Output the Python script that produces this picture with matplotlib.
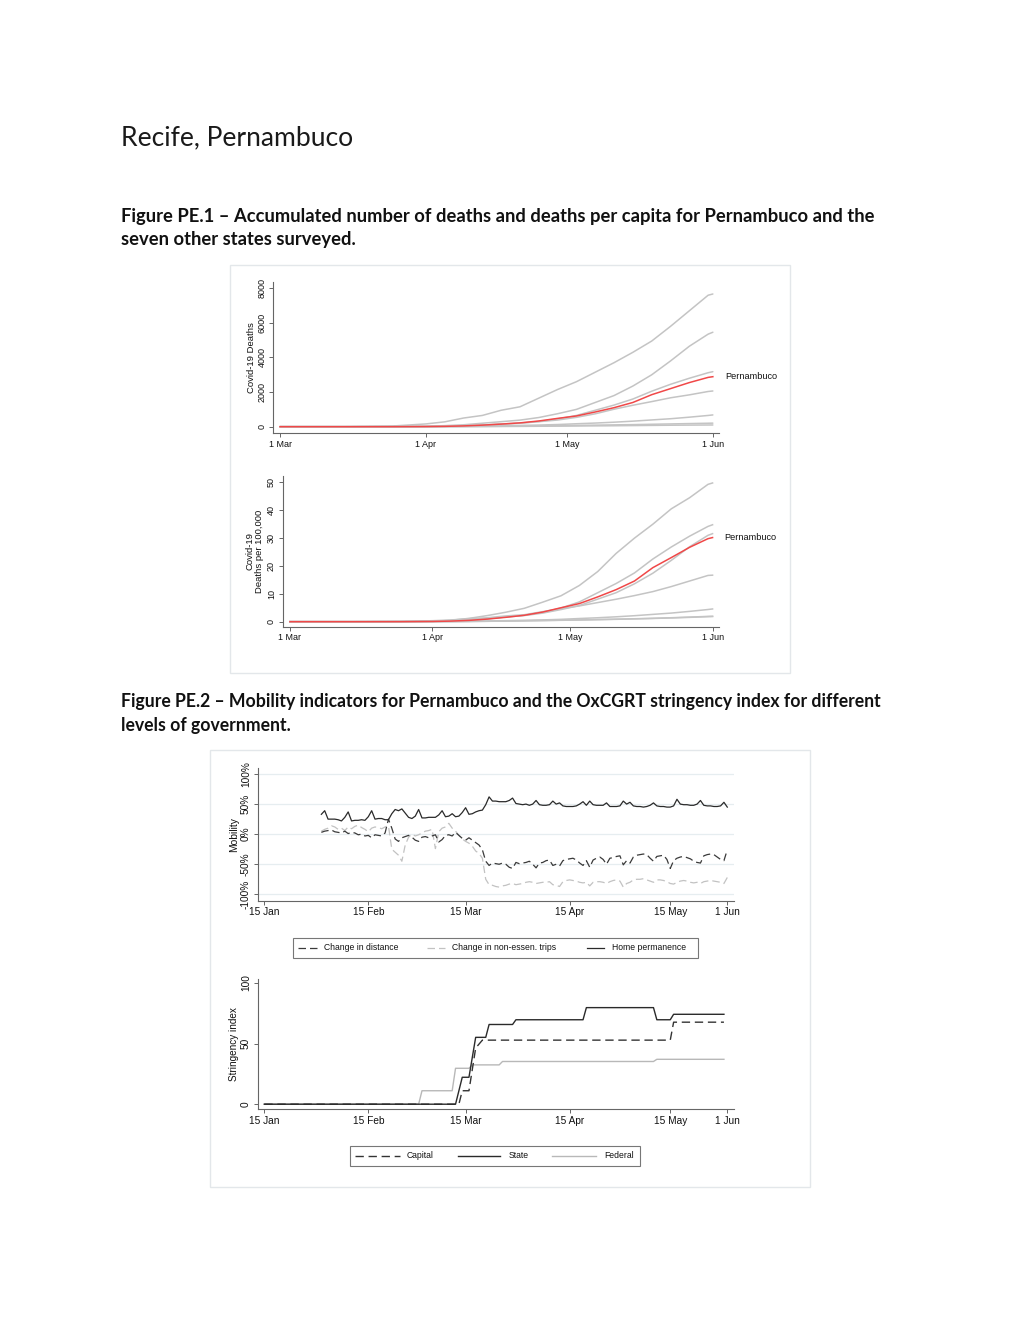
import matplotlib
matplotlib.use('Agg')
import matplotlib.pyplot as plt
import pandas as pd
from matplotlib.lines import Line2D
from matplotlib.patches import Rectangle

# ---------------- DATA ----------------
death_dates = ['2020-03-01', '2020-03-15', '2020-03-25', '2020-04-01', '2020-04-05',
               '2020-04-09', '2020-04-13', '2020-04-17', '2020-04-21', '2020-04-25',
               '2020-04-29', '2020-05-03', '2020-05-07', '2020-05-11', '2020-05-15',
               '2020-05-19', '2020-05-23', '2020-05-27', '2020-05-31', '2020-06-01']

# accumulated deaths (other states, grey)
deaths_sp = [0, 0, 40, 160, 280, 500, 650, 950, 1150, 1650, 2150, 2600, 3150, 3700, 4300, 4950, 5800, 6700, 7600, 7670]
deaths_rj = [0, 0, 5, 23, 60, 110, 200, 290, 380, 530, 750, 1000, 1400, 1800, 2350, 3000, 3800, 4650, 5350, 5460]
deaths_ce = [0, 0, 2, 16, 30, 50, 90, 160, 210, 300, 450, 650, 950, 1250, 1600, 2050, 2450, 2800, 3120, 3180]
deaths_am = [0, 0, 2, 3, 20, 50, 90, 140, 200, 290, 385, 540, 745, 1010, 1240, 1450, 1670, 1840, 2035, 2064]
deaths_ba = [0, 0, 1, 5, 10, 20, 35, 55, 75, 95, 125, 170, 210, 260, 320, 390, 460, 550, 650, 680]
deaths_mg = [0, 0, 1, 2, 5, 10, 16, 25, 35, 45, 60, 75, 90, 105, 120, 140, 160, 180, 200, 205]
deaths_rs = [0, 0, 0, 1, 3, 5, 8, 12, 18, 25, 32, 40, 48, 55, 65, 75, 85, 92, 98, 100]
deaths_pe = [0, 0, 1, 8, 20, 45, 90, 150, 220, 330, 480, 620, 850, 1100, 1400, 1850, 2200, 2550, 2850, 2890]

# deaths per 100,000
pc_am = [0, 0, 0.05, 0.1, 0.5, 1.2, 2.2, 3.4, 4.8, 7.0, 9.3, 13, 18, 24.5, 30, 35, 40.5, 44.5, 49.3, 49.8]
pc_ce = [0, 0, 0.02, 0.18, 0.33, 0.55, 1.0, 1.75, 2.3, 3.3, 4.9, 7.1, 10.4, 13.7, 17.5, 22.5, 26.8, 30.7, 34.2, 34.8]
pc_rj = [0, 0, 0.03, 0.13, 0.35, 0.64, 1.16, 1.68, 2.2, 3.07, 4.35, 5.8, 8.1, 10.4, 13.6, 17.4, 22, 26.9, 31, 31.6]
pc_sp = [0, 0, 0.09, 0.35, 0.61, 1.09, 1.42, 2.07, 2.5, 3.6, 4.68, 5.66, 6.86, 8.06, 9.37, 10.8, 12.6, 14.6, 16.6, 16.7]
pc_ba = [0, 0, 0.01, 0.03, 0.07, 0.13, 0.24, 0.37, 0.5, 0.64, 0.84, 1.14, 1.41, 1.75, 2.15, 2.62, 3.09, 3.7, 4.37, 4.57]
pc_mg = [0, 0, 0.01, 0.02, 0.04, 0.08, 0.14, 0.22, 0.3, 0.4, 0.5, 0.6, 0.72, 0.85, 1.0, 1.15, 1.35, 1.55, 1.8, 1.85]
pc_rs = [0, 0, 0.01, 0.02, 0.05, 0.09, 0.15, 0.23, 0.32, 0.42, 0.53, 0.64, 0.77, 0.9, 1.05, 1.22, 1.42, 1.65, 1.9, 1.95]
pc_pe = [0, 0, 0.01, 0.08, 0.21, 0.47, 0.94, 1.57, 2.3, 3.45, 5.0, 6.5, 8.9, 11.5, 14.6, 19.4, 23, 26.7, 29.8, 30.2]

# mobility, daily from 2020-02-01 (weekly rows Sat..Fri)
mob_start = '2020-02-01'
home_perm = [33, 39, 25, 25, 25, 24, 22,
             28, 37, 22, 23, 23, 24, 23,
             29, 39, 25, 26, 26, 24, 24,
             34, 41, 39, 42, 35, 28, 26,
             30, 41, 27, 27, 28, 28, 28,
             32, 39, 29, 30, 34, 29, 30,
             36, 44, 33, 34, 37, 39, 40,
             49, 62, 55, 55, 54, 54, 54,
             56, 60, 51, 50, 49, 50, 48,
             50, 56, 49, 48, 48, 49, 55,
             50, 52, 47, 46, 46, 46, 47,
             50, 54, 48, 55, 49, 48, 48,
             48, 52, 46, 46, 46, 47, 55,
             50, 53, 47, 46, 46, 45, 46,
             48, 52, 47, 46, 46, 45, 45,
             47, 58, 50, 49, 49, 48, 48,
             50, 56, 48, 47, 47, 46, 46,
             47, 53, 45]
chg_distance = [3, 5, 6, 7, 4, 3, 2,
                5, 1, 3, 2, -1, 0, -3,
                -2, -6, -1, -2, -3, 2, 25,
                10, -8, -12, -6, -4, -2, -5,
                -10, -12, -5, -4, -6, -3, -1,
                -13, -9, -2, -1, -3, 3, -2,
                -7, -10, -6, -10, -14, -18, -26,
                -45, -52, -48, -49, -50, -48, -50,
                -55, -57, -47, -49, -48, -47, -45,
                -50, -56, -48, -47, -44, -43, -52,
                -50, -53, -44, -42, -41, -40, -43,
                -48, -52, -44, -55, -43, -40, -38,
                -42, -50, -40, -39, -37, -36, -51,
                -44, -48, -38, -35, -34, -33, -34,
                -40, -45, -37, -36, -35, -42, -57,
                -44, -40, -38, -37, -39, -41, -45,
                -47, -48, -36, -34, -33, -34, -38,
                -42, -44, -26]
chg_nonessential = [5, 8, 10, 14, 12, 8, 10,
                    6, 12, 9, 13, 15, 11, 8,
                    4, 10, 12, 11, 9, 12, 14,
                    -25, -30, -35, -45, -18, -5, 0,
                    -3, -1, 2, 5, 6, 8, -24,
                    4, 10, 12, 18, 10, 5, -2,
                    -8, -12, -15, -20, -28, -32, -40,
                    -75, -84, -85, -87, -88, -86, -85,
                    -83, -82, -84, -83, -82, -80, -79,
                    -80, -82, -81, -80, -80, -79, -84,
                    -85, -87, -79, -77, -76, -77, -78,
                    -80, -81, -80, -86, -80, -79, -79,
                    -80, -82, -79, -77, -76, -78, -88,
                    -82, -80, -76, -75, -75, -74, -76,
                    -78, -80, -76, -76, -77, -79, -82,
                    -83, -80, -78, -77, -78, -80, -81,
                    -80, -82, -79, -78, -77, -78, -79,
                    -80, -82, -72]

# OxCGRT stringency index (change points)
state_dates = ['2020-01-15', '2020-03-12', '2020-03-14', '2020-03-16', '2020-03-18', '2020-03-21',
               '2020-03-22', '2020-03-29', '2020-03-30', '2020-04-19', '2020-04-20', '2020-05-10',
               '2020-05-11', '2020-05-15', '2020-05-16', '2020-05-31']
state_vals = [0, 0, 22.2, 22.2, 55.1, 55.1, 65.7, 65.7, 69.6, 69.6, 79.6, 79.6, 69.6, 69.6, 74.1, 74.1]
capital_dates = ['2020-01-15', '2020-03-13', '2020-03-14', '2020-03-16', '2020-03-18', '2020-03-20',
                 '2020-05-15', '2020-05-16', '2020-05-31']
capital_vals = [0, 0, 11.1, 11.1, 46.3, 52.8, 52.8, 67.6, 67.6]
federal_dates = ['2020-01-15', '2020-03-01', '2020-03-02', '2020-03-11', '2020-03-12', '2020-03-16',
                 '2020-03-17', '2020-03-25', '2020-03-26', '2020-05-10', '2020-05-11', '2020-05-31']
federal_vals = [0, 0, 11.1, 11.1, 29.6, 29.6, 32.4, 32.4, 35.2, 35.2, 37.0, 37.0]

death_ticks = ['2020-03-01', '2020-04-01', '2020-05-01', '2020-06-01']
death_tick_labels = ['1 Mar', '1 Apr', '1 May', '1 Jun']
mob_ticks = ['2020-01-15', '2020-02-15', '2020-03-15', '2020-04-15', '2020-05-15', '2020-06-01']
mob_tick_labels = ['15 Jan', '15 Feb', '15 Mar', '15 Apr', '15 May', '1 Jun']

# ---------------- FIGURE ----------------
W, H = 1020, 1320
fig = plt.figure(figsize=(10.2, 13.2), dpi=100)
fig.patch.set_facecolor('white')
AXFONT = ['Liberation Sans', 'DejaVu Sans']
HEADFONT = ['Lato', 'DejaVu Sans']


def fx(px):
    return px / W


def fy(py):
    return 1 - py / H


def axes_px(l, t, r, b):
    return fig.add_axes([fx(l), fy(b), (r - l) / W, (b - t) / H])


def frame_px(l, t, r, b):
    fig.add_artist(Rectangle((fx(l), fy(b)), (r - l) / W, (b - t) / H, transform=fig.transFigure,
                             fill=False, edgecolor='#e3e7ea', lw=1.0))


renderer = fig.canvas.get_renderer()


def fit_width(t, target):
    w = t.get_window_extent(renderer).width
    t.set_fontsize(t.get_fontsize() * target / w)


# headings
t0 = fig.text(fx(121), fy(145), 'Recife, Pernambuco', fontsize=17, family=HEADFONT,
              weight='normal', va='baseline', color='#1a1a1a')
fit_width(t0, 232)

c1a = fig.text(fx(121), fy(222), 'Figure PE.1 \u2013 Accumulated number of deaths and deaths per capita for Pernambuco and the',
               fontsize=12, family=HEADFONT, weight='bold', va='baseline', color='#111')
fit_width(c1a, 747)
fig.text(fx(121), fy(245), 'seven other states surveyed.', fontsize=c1a.get_fontsize(), family=HEADFONT,
         weight='bold', va='baseline', color='#111')

c2a = fig.text(fx(121), fy(707), 'Figure PE.2 \u2013 Mobility indicators for Pernambuco and the OxCGRT stringency index for different',
               fontsize=12, family=HEADFONT, weight='bold', va='baseline', color='#111')
fit_width(c2a, 757)
fig.text(fx(121), fy(731), 'levels of government.', fontsize=c2a.get_fontsize(), family=HEADFONT,
         weight='bold', va='baseline', color='#111')

frame_px(230, 265, 790, 673)
frame_px(210, 750, 810, 1187)

SPINE = '#666666'


def style_axes(ax, tick_fs):
    for s in ['top', 'right']:
        ax.spines[s].set_visible(False)
    for s in ['left', 'bottom']:
        ax.spines[s].set_color(SPINE)
        ax.spines[s].set_linewidth(0.8)
    ax.tick_params(axis='both', direction='out', length=2.8, width=0.7, color=SPINE,
                   labelsize=tick_fs, pad=2.0, labelcolor='#111')
    ax.tick_params(axis='y', labelrotation=90)
    ax.minorticks_off()
    ax.set_facecolor('white')


def set_xticks(ax, ticks, labels, fs):
    ax.set_xticks(pd.to_datetime(ticks))
    ax.set_xticklabels(labels, family=AXFONT, fontsize=fs)


def fix_yticklabels(ax, labels, fs):
    ax.set_yticklabels(labels, family=AXFONT, fontsize=fs, rotation=90, va='center')


def ylabel_at(ax, text, fs, x_px, left_px, right_px, **kw):
    ax.set_ylabel(text, family=AXFONT, fontsize=fs, color='#111', va='center', ha='center', **kw)
    ax.yaxis.set_label_coords((x_px - left_px) / (right_px - left_px), 0.5)


GREY = '#c4c4c4'
RED = '#f04848'
dd = pd.to_datetime(death_dates)

# ---- Deaths ----
ax1 = axes_px(273.3, 281.7, 718.5, 433.3)
for series in [deaths_sp, deaths_rj, deaths_ce, deaths_am, deaths_ba, deaths_mg, deaths_rs]:
    ax1.plot(dd, series, color=GREY, lw=1.1, solid_capstyle='round')
ax1.plot(dd, deaths_pe, color=RED, lw=1.1)
ax1.set_xlim(pd.Timestamp('2020-03-01') - pd.Timedelta(days=1.43), pd.Timestamp('2020-06-01') + pd.Timedelta(days=1.2))
ax1.set_ylim(-382, 8381)
style_axes(ax1, 6.5)
set_xticks(ax1, death_ticks, death_tick_labels, 6.5)
ax1.set_yticks([0, 2000, 4000, 6000, 8000])
fix_yticklabels(ax1, ['0', '2000', '4000', '6000', '8000'], 6.5)
ylabel_at(ax1, 'Covid-19 Deaths', 6.8, 251.7, 273.3, 718.5)
ax1.annotate('Pernambuco', xy=(dd[-1], deaths_pe[-1]), xytext=(8.9, 0), textcoords='offset points',
             va='center', ha='left', family=AXFONT, fontsize=6.6, color='#111', annotation_clip=False)

# ---- Deaths per capita ----
ax2 = axes_px(282.7, 476, 719, 626.7)
for series in [pc_am, pc_ce, pc_rj, pc_sp, pc_ba, pc_mg, pc_rs]:
    ax2.plot(dd, series, color=GREY, lw=1.1)
ax2.plot(dd, pc_pe, color=RED, lw=1.1)
ax2.set_xlim(pd.Timestamp('2020-03-01') - pd.Timedelta(days=1.58), pd.Timestamp('2020-06-01') + pd.Timedelta(days=1.4))
ax2.set_ylim(-1.8, 52.3)
style_axes(ax2, 6.5)
set_xticks(ax2, death_ticks, death_tick_labels, 6.5)
ax2.set_yticks([0, 10, 20, 30, 40, 50])
fix_yticklabels(ax2, ['0', '10', '20', '30', '40', '50'], 6.5)
ylabel_at(ax2, 'Covid-19\nDeaths per 100,000', 6.8, 255, 282.7, 719, linespacing=1.1)
ax2.annotate('Pernambuco', xy=(dd[-1], pc_pe[-1]), xytext=(8.4, 0), textcoords='offset points',
             va='center', ha='left', family=AXFONT, fontsize=6.6, color='#111', annotation_clip=False)

# ---- Mobility ----
md = pd.date_range(mob_start, periods=len(home_perm), freq='D')
mxlim = (pd.Timestamp('2020-01-15') - pd.Timedelta(days=1.97), pd.Timestamp('2020-06-01') + pd.Timedelta(days=2.0))
ax3 = axes_px(257.7, 768.3, 734, 900.7)
for yv in [-100, -50, 0, 50, 100]:
    ax3.axhline(yv, color='#e6edf0', lw=0.9, zorder=0)
ax3.plot(md, chg_nonessential, color='#c2c2c2', lw=0.9, dashes=(6, 3.2))
ax3.plot(md, chg_distance, color='#3a3a3a', lw=0.9, dashes=(6, 3.2))
ax3.plot(md, home_perm, color='#2a2a2a', lw=0.9)
ax3.set_xlim(*mxlim)
ax3.set_ylim(-110.6, 109.5)
style_axes(ax3, 7.3)
set_xticks(ax3, mob_ticks, mob_tick_labels, 7.3)
ax3.set_yticks([-100, -50, 0, 50, 100])
fix_yticklabels(ax3, ['-100%', '-50%', '0%', '50%', '100%'], 7.3)
ylabel_at(ax3, 'Mobility', 7.4, 234, 257.7, 734)

# ---- Stringency ----
ax4 = axes_px(257.7, 978.5, 734, 1109.3)
ax4.plot(pd.to_datetime(federal_dates), federal_vals, color='#b8b8b8', lw=1.0)
ax4.plot(pd.to_datetime(capital_dates), capital_vals, color='#333333', lw=1.0, dashes=(6, 3.4))
ax4.plot(pd.to_datetime(state_dates), state_vals, color='#2a2a2a', lw=1.0)
ax4.set_xlim(*mxlim)
ax4.set_ylim(-4.2, 103.6)
style_axes(ax4, 7.3)
set_xticks(ax4, mob_ticks, mob_tick_labels, 7.3)
ax4.set_yticks([0, 50, 100])
fix_yticklabels(ax4, ['0', '50', '100'], 7.3)
ylabel_at(ax4, 'Stringency index', 7.2, 234, 257.7, 734)


# ---- legends (drawn as figure artists) ----
def legend_box(l, t, r, b):
    fig.add_artist(Rectangle((fx(l), fy(b)), (r - l) / W, (b - t) / H, transform=fig.transFigure,
                             fill=False, edgecolor='#777777', lw=0.8))


def legend_entry(x0, x1, y, text_x, label, color, lw, dashes=None):
    ln = Line2D([fx(x0), fx(x1)], [fy(y), fy(y)], transform=fig.transFigure, color=color, lw=lw)
    if dashes:
        ln.set_dashes(dashes)
    fig.add_artist(ln)
    fig.text(fx(text_x), fy(y), label, family=AXFONT, fontsize=6.2, va='center', ha='left', color='#111')


legend_box(293, 938, 698, 958)
legend_entry(298, 318, 948, 324, 'Change in distance', '#3a3a3a', 0.9, (6, 3.2))
legend_entry(427, 445, 948, 452, 'Change in non-essen. trips', '#c2c2c2', 0.9, (6, 3.2))
legend_entry(587, 604, 948, 612, 'Home permanence', '#2a2a2a', 0.9)

legend_box(350, 1146, 640, 1166)
legend_entry(355, 400, 1156, 407, 'Capital', '#333333', 1.0, (6, 3.4))
legend_entry(458, 500, 1156, 509, 'State', '#2a2a2a', 1.0)
legend_entry(552, 596, 1156, 604, 'Federal', '#b8b8b8', 1.0)

fig.savefig('out.png', dpi=100, facecolor='white')
